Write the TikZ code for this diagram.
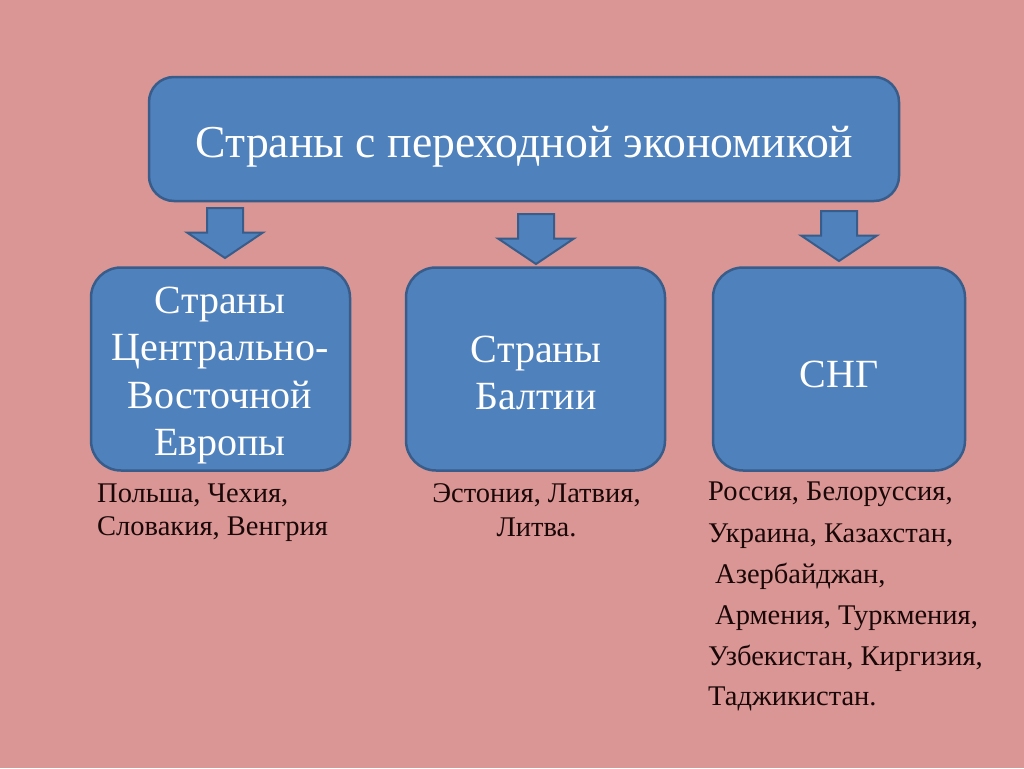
\documentclass[tikz,border=0pt]{standalone}
\usepackage{fontspec}
\setmainfont{Liberation Serif}
\definecolor{bg}{RGB}{217,150,148}
\definecolor{boxfill}{RGB}{79,129,189}
\definecolor{boxline}{RGB}{56,93,138}
\definecolor{ink}{RGB}{26,8,8}
\begin{document}
\begin{tikzpicture}[x=1pt,y=-1pt,
  box/.style={draw=boxline,fill=boxfill,line width=2.5pt,rounded corners=#1,inner sep=0pt},
  box/.default=30pt,
  boxtxt/.style={text=white,font=\fontsize{40}{47}\selectfont,anchor=base,inner sep=0pt},
  titletxt/.style={text=white,font=\fontsize{45.7}{54}\selectfont,anchor=base,inner sep=0pt},
  listtxt/.style={text=ink,font=\fontsize{28.5}{33}\selectfont,inner sep=0pt},
  blockarrow/.pic={\draw[draw=boxline,fill=boxfill,line width=2pt,line join=miter]
    (-18,0) -- (18,0) -- (18,24.5) -- (38,24.5) -- (0,50) -- (-38,24.5) -- (-18,24.5) -- cycle;}]
\useasboundingbox (0,0) rectangle (1024,768);
\fill[bg] (0,0) rectangle (1024,768);

% boxes
\node[box=25pt,minimum width=750pt,minimum height=124pt] (top) at (524,139) {};
\node[box,minimum width=259pt,minimum height=203pt] (ceu) at (220.5,369) {};
\node[box,minimum width=259pt,minimum height=203pt] (balt) at (535.5,369) {};
\node[box,minimum width=252pt,minimum height=203pt] (sng) at (839,369) {};

% block arrows
\pic at (225,208) {blockarrow};
\pic at (536,214) {blockarrow};
\pic at (839,211) {blockarrow};

% texts in boxes
\node[titletxt] (t0) at (524.5,157) {Страны с переходной экономикой};
\node[boxtxt] (c1) at (220,313) {Страны};
\node[boxtxt] (c2) at (220,360) {Центрально-};
\node[boxtxt] (c3) at (220,408) {Восточной};
\node[boxtxt] (c4) at (220,455) {Европы};
\node[boxtxt] (b1) at (536,362) {Страны};
\node[boxtxt] (b2) at (536,409) {Балтии};
\node[boxtxt] (s1) at (839,387) {СНГ};

% lists
\node[listtxt,anchor=base west] (l1) at (97,502) {Польша, Чехия,};
\node[listtxt,anchor=base west] (l2) at (97,535) {Словакия, Венгрия};
\node[listtxt,anchor=base] (m1) at (536.5,502) {Эстония, Латвия,};
\node[listtxt,anchor=base] (m2) at (536.5,536) {Литва.};
\node[listtxt,anchor=base west] (r1) at (708,500) {Россия, Белоруссия,};
\node[listtxt,anchor=base west] (r2) at (708,542) {Украина, Казахстан,};
\node[listtxt,anchor=base west] (r3) at (715,583) {Азербайджан,};
\node[listtxt,anchor=base west] (r4) at (715,624) {Армения, Туркмения,};
\node[listtxt,anchor=base west] (r5) at (708,665) {Узбекистан, Киргизия,};
\node[listtxt,anchor=base west] (r6) at (708,705) {Таджикистан.};
\end{tikzpicture}
\end{document}
